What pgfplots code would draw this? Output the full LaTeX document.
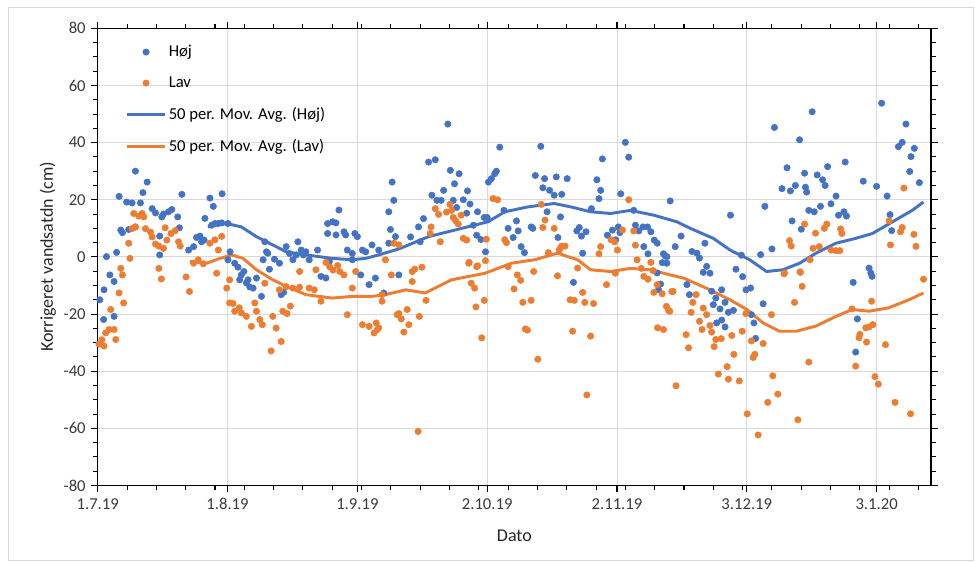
\documentclass[border=0pt]{standalone}
\usepackage{fontspec}
\setmainfont{Carlito}
\usepackage{pgfplots}
\usepackage{pgfplotstable}
\pgfplotsset{compat=1.18}
\definecolor{xlblue}{HTML}{4472C4}
\definecolor{xlorange}{HTML}{ED7D31}
\definecolor{gridgrey}{HTML}{D9D9D9}
\definecolor{txtgrey}{HTML}{3A3A3A}
\pgfplotsset{
  markleg/.style={legend image code/.code={\draw[mark repeat=2,mark phase=2,##1] plot coordinates {(0cm,0cm)(0.49cm,0cm)(0.98cm,0cm)};}},
  lineleg/.style={legend image code/.code={\draw[##1] (0cm,0cm) -- (0.98cm,0cm);}},
}

\pgfplotstableread{
d v
0.5 -15
1.5 -11.5
2.9 -6.3
3.9 -8.6
1.4 -21.9
3.9 -20.8
2.1 0.1
4.5 1.6
5.5 9.4
5.9 8.5
7.4 9.6
9.0 10.5
5.1 21.2
6.9 19.2
8.2 18.9
10.2 18.9
9.0 30.0
11.8 26.2
10.8 22.5
13.0 16.9
13.8 15.4
15.7 15.0
16.9 15.8
17.7 16.6
19.1 14.0
15.3 14.0
19.5 10.2
14.8 7.3
14.8 0.7
20.1 21.9
21.7 2.4
22.9 3.6
23.6 6.8
24.4 7.3
24.8 5.3
25.4 5.9
25.6 13.5
26.8 20.6
27.6 17.7
29.7 22.1
27.2 11.1
28.0 11.7
28.8 11.7
29.6 11.9
31.1 11.7
31.6 1.8
31.1 -1.0
32.7 -2.2
33.5 -3.6
34.3 -6.3
34.9 -5.1
33.9 -8.0
35.5 -9.1
36.3 -10.5
37.1 -10.9
35.9 -8.0
37.9 -7.4
39.1 -13.8
39.9 5.3
40.3 1.8
40.6 1.3
39.5 -1.0
41.0 -4.3
42.2 -0.8
43.4 -2.2
43.8 -13.2
44.4 -12.4
45.0 3.6
45.8 1.2
46.6 -1.0
47.4 0.7
47.8 5.3
48.6 2.4
49.1 0.7
49.7 1.8
50.5 -1.0
52.5 2.4
53.3 -6.8
54.5 -7.4
55.3 -1.6
57.6 16.4
56.9 7.7
54.9 8.2
54.9 11.7
56.1 12.3
56.9 11.9
58.8 8.8
59.2 7.7
59.6 2.4
60.8 1.2
60.8 -1.0
61.4 8.2
62.0 7.1
62.8 -6.3
63.2 2.4
64.0 1.8
64.8 -9.7
65.5 4.2
66.3 -7.4
67.1 2.4
68.3 -12.6
69.5 4.8
70.7 19.8
69.5 15.8
69.9 9.6
70.3 26.2
71.1 7.1
71.9 -6.3
83.6 46.5
79.0 33.2
80.6 34.0
84.2 30.3
86.3 29.1
85.2 25.6
79.8 21.6
81.0 19.8
82.0 19.8
82.6 23.3
84.9 19.8
85.7 17.3
87.3 20.0
88.3 23.1
88.9 18.5
88.1 15.3
77.8 13.4
76.6 10.5
74.7 7.0
77.0 5.3
90.7 15.8
92.3 13.8
93.0 13.8
89.7 11.1
90.5 7.6
91.5 6.1
92.6 1.8
93.3 26.2
94.0 27.4
94.8 29.1
95.2 30.0
96.0 38.4
97.0 16.3
98.0 10.0
100.0 12.6
100.4 9.1
99.2 6.8
101.1 3.6
101.9 1.5
103.5 10.5
103.9 10.0
104.5 28.5
106.3 24.2
106.7 27.4
107.9 23.3
109.0 21.6
110.8 21.9
109.5 28.0
112.1 27.4
110.5 14.0
107.3 15.8
105.8 38.7
109.9 6.8
113.6 -8.9
114.4 9.1
115.0 10.3
115.5 7.3
116.6 8.8
115.8 1.3
119.2 27.0
120.1 23.3
119.7 20.4
120.5 34.3
117.9 16.9
126.0 40.1
126.8 34.9
124.9 22.1
121.7 7.6
122.9 9.4
124.3 10.5
124.7 8.5
123.7 6.0
128.4 11.1
129.2 9.1
130.2 10.5
131.3 10.5
132.1 8.8
132.9 5.9
130.4 3.6
131.4 1.1
135.1 1.1
135.9 0.1
136.7 19.6
137.9 3.6
133.6 -5.6
134.8 -2.0
135.9 -2.2
128.0 16.3
133.9 -11.5
133.6 4.8
135.5 0.3
139.3 7.3
141.9 1.9
143.1 1.3
143.7 -0.4
145.0 4.8
144.6 -5.4
145.4 -3.3
146.2 -5.7
151.1 14.6
152.4 -4.3
154.0 -6.9
153.7 0.6
158.3 0.8
159.3 17.7
161.0 2.8
161.6 45.3
163.4 23.9
164.6 31.2
165.4 23.1
165.8 12.6
166.6 25.0
167.6 41.0
168.0 9.7
168.8 29.3
169.0 24.4
169.3 22.7
169.8 16.3
170.6 50.8
171.1 15.8
171.8 28.7
172.6 17.7
173.1 27.0
173.7 25.0
174.3 31.6
175.1 18.6
176.3 21.3
176.9 14.6
178.2 15.8
178.5 33.2
178.8 14.3
182.8 26.5
184.2 -3.9
184.6 -5.6
186.0 24.7
187.2 53.8
188.5 21.3
189.2 14.8
189.6 9.2
191.2 38.6
192.1 40.1
193.0 46.5
193.9 29.9
194.2 35.1
195.0 38.0
196.2 26.0
134.4 -9.5
140.7 -9.7
141.3 -13.2
146.6 -12.0
149.0 -11.5
147.6 -14.4
147.0 -16.7
148.6 -18.2
149.8 -15.9
150.6 -19.4
151.8 -18.7
147.8 -23.1
149.8 -24.5
149.0 -22.1
154.8 -11.5
155.9 -10.9
158.9 -16.4
156.1 -20.2
156.7 -23.1
157.1 -28.5
180.4 -8.9
181.4 -21.7
181.0 -33.3
184.9 -6.8
}\hoj

\pgfplotstableread{
d v
0.3 -30.5
1.0 -29
1.5 -31.2
1.9 -26.6
2.7 -25.4
3.9 -25.4
4.3 -28.9
3.1 -18.4
6.2 -16.1
5.1 -12.6
5.5 -4.0
5.9 -6.3
7.7 -0.5
7.4 4.8
8.2 9.9
9.0 10.5
8.6 15.2
9.8 14.3
10.6 15.2
11.0 14.0
11.4 9.9
12.6 8.7
13.0 7.0
13.8 4.5
14.6 3.8
15.7 3.0
16.5 5.9
17.5 8.2
18.5 9.2
19.3 5.3
19.7 3.8
16.1 10.2
14.6 -4.0
15.2 -7.7
21.1 -7.0
21.9 -12.1
22.9 -2.2
24.0 -1.0
25.2 -2.4
26.8 4.8
28.0 6.0
29.6 7.2
28.8 2.4
28.4 -5.7
31.5 -8.0
30.8 -10.9
31.5 -16.1
32.3 -16.3
32.7 -19.0
33.8 -17.8
34.3 -19.6
35.5 -20.8
36.7 -24.3
37.5 -16.1
37.9 -19.0
38.7 -21.9
39.3 -23.7
39.9 -9.2
41.8 -20.8
42.6 -24.9
43.8 -29.6
44.2 -19.0
45.2 -19.8
46.0 -17.2
41.4 -32.9
43.4 -11.5
45.0 -10.4
46.6 -10.9
48.2 -10.6
50.5 -10.9
51.7 -11.5
48.2 -5.1
52.1 -4.5
54.5 -1.9
55.4 -3.5
56.2 -4.6
57.3 -3.0
57.8 -5.1
58.8 -6.3
59.6 -20.2
61.6 -5.1
60.8 -10.9
63.2 -23.7
64.8 -24.3
66.5 -23.1
66.8 -25.4
66.0 -26.6
67.9 -15.5
70.1 -6.3
70.7 4.8
71.9 4.2
71.5 -20.2
53.3 -15.5
67.1 -24.8
67.9 -13.2
68.7 -1.0
75.1 -5.1
75.7 -4.3
77.4 -3.6
75.1 -8.6
71.9 -19.8
72.5 -21.7
73.9 -18.4
74.3 -23.7
73.1 -26.3
76.8 -20.8
78.4 -15.2
76.5 -61.1
79.4 8.2
79.6 10.5
80.6 16.9
81.4 14.9
81.8 5.3
83.3 15.7
84.1 18.4
84.5 16.3
84.9 13.8
85.5 12.6
86.1 11.5
86.8 14.6
87.3 6.5
88.1 5.9
88.6 -2.2
88.7 -1.9
89.2 -9.2
90.0 -10.9
90.3 -17.5
90.5 -3.4
90.7 -3.1
91.7 -28.3
92.3 -15.2
92.6 -1.3
92.8 6.2
94.4 20.4
95.5 20.0
97.2 6.0
97.6 5.0
98.0 -3.4
99.4 -11.2
100.2 -6.3
101.0 -8.2
101.5 -15.9
102.1 -25.2
102.6 -25.6
103.5 -15.2
104.1 -5.1
105.1 -35.8
105.9 18.4
106.3 10.3
106.8 12.9
107.6 1.5
109.0 10.0
109.8 -6.6
110.2 2.4
110.6 3.4
110.8 3.8
111.6 3.8
112.8 -15.0
113.4 -26.0
113.8 -15.2
114.6 -3.9
115.8 -12.4
116.3 -15.9
116.8 -48.3
117.7 -27.7
118.4 -16.3
119.7 1.1
120.1 3.6
121.5 -9.7
122.6 6.0
123.4 5.3
123.6 -5.7
124.1 2.4
125.3 9.4
126.8 20.0
128.0 9.1
128.4 4.1
128.8 -1.0
129.8 -4.0
130.4 -6.8
131.4 -7.8
132.1 -1.9
132.6 -4.8
132.8 -12.4
133.6 -9.7
133.7 -24.8
134.8 -12.9
135.1 -25.4
135.8 -17.3
136.3 -18.7
136.6 -19.0
137.1 -12.1
137.4 -12.1
138.1 -45.1
140.5 -27.2
141.1 -31.8
141.7 -19.4
142.1 -15.9
142.9 -13.2
143.7 -22.5
144.3 -25.4
144.6 -17.9
145.4 -20.2
146.2 -24.0
146.6 -26.3
147.2 -31.4
147.6 -28.9
148.2 -41.0
148.9 -28.6
150.3 -38.4
150.6 -42.8
151.4 -27.5
151.9 -34.1
153.2 -43.4
153.9 -26.0
154.8 -19.8
155.1 -54.9
156.1 -29.4
156.5 -35.2
156.9 -34.1
157.7 -62.3
158.9 -30.3
160.0 -50.9
160.9 -20.2
161.2 -41.6
162.4 -48.0
163.9 -5.9
164.0 -5.6
165.2 5.7
165.6 3.8
166.4 -15.9
167.2 -57.0
167.7 -5.2
167.8 -5.4
168.2 -10.3
168.8 11.5
169.8 -36.8
170.1 -1.0
170.8 3.0
171.4 8.3
172.3 3.6
173.5 10.0
174.1 11.5
175.1 2.4
176.3 2.2
177.2 2.2
177.4 9.8
177.7 8.2
180.1 -18.2
181.0 -38.2
181.8 -28.3
182.0 -27.1
183.4 -24.8
183.6 -29.8
184.2 -24.5
184.8 -15.5
185.1 -23.7
185.6 -41.9
186.4 -44.5
188.1 -30.7
189.0 12.6
189.3 4.2
190.4 -50.9
191.7 8.8
192.1 10.3
192.5 24.1
194.1 -54.9
194.9 7.9
195.4 3.7
197.2 -7.8
}\lav

\pgfplotstableread{
d v
26.3 10.5
28.5 11.2
30.8 11.7
34.3 10.5
37.9 7.1
41.8 4.2
45.0 1.8
49.7 0.7
56.0 -0.5
60.8 -1.0
64.0 -0.5
67.1 0.7
71.9 2.8
79.0 7.1
86.9 10.0
93.2 12.3
97.2 15.8
102.7 17.5
109.0 18.7
113.0 17.5
117.7 15.8
122.5 15.2
127.2 16.3
132.8 14.6
138.3 12.3
141.5 10.0
147.0 6.5
151.0 2.4
155.7 -1.0
159.7 -5.1
163.6 -4.5
167.6 -2.2
171.5 1.3
176.3 4.8
181.0 6.5
185.0 8.2
190.5 12.9
194.5 16.3
197.2 19.2
}\mahoj

\pgfplotstableread{
d v
22.0 -1.6
26.0 -2.2
29.2 -0.5
32.0 0.7
34.7 -0.5
37.9 -4.5
41.8 -8.0
45.0 -10.3
49.7 -13.2
56.0 -14.4
60.8 -13.8
65.5 -13.8
68.7 -13.2
71.9 -12.1
73.5 -11.5
78.2 -12.6
84.5 -8.0
92.5 -5.7
98.8 -2.2
104.3 -1.0
109.8 1.3
114.6 -1.0
117.7 -4.5
122.5 -5.1
127.2 -4.0
132.0 -4.5
136.7 -6.3
139.9 -7.4
146.2 -11.5
151.0 -15.0
155.0 -18.4
158.9 -23.1
162.8 -26.0
166.8 -26.0
171.5 -24.2
176.3 -20.8
180.2 -18.4
184.2 -19.0
188.9 -17.8
193.7 -15.0
197.2 -12.6
}\malav

\begin{document}
\begin{tikzpicture}
\useasboundingbox (0,0) rectangle (731.25pt,422.25pt);
\draw[gridgrey, line width=0.75pt] (6pt,1.5pt) rectangle (729.75pt,416.25pt);
\begin{axis}[
  at={(73.3pt,58.1pt)}, anchor=south west,
  scale only axis, width=625pt, height=342.9pt,
  xmin=0, xmax=199, ymin=-80, ymax=80,
  xtick={0,31,62,93,124,155,186},
  xticklabels={1.7.19,1.8.19,1.9.19,2.10.19,2.11.19,3.12.19,3.1.20},
  minor xtick={7,14,...,196},
  ytick={-80,-60,...,80},
  minor y tick num=3,
  grid=major,
  major grid style={gridgrey, line width=0.75pt},
  axis line style={black, line width=0.9pt},
  tick style={black, line width=0.8pt},
  tick align=outside,
  major tick length=5pt,
  minor tick length=3.5pt,
  ticklabel style={font=\fontsize{12.5}{14}\selectfont, text=txtgrey},
  xticklabel style={yshift=-1pt},
  yticklabel style={xshift=-0.5pt},
  /pgf/number format/assume math mode=true,
  xlabel={Dato}, ylabel={Korrigeret vandsatdn (cm)},
  label style={font=\fontsize{13.5}{16}\selectfont, text=black!85},
  xlabel style={at={(axis description cs:0.5,-0.111)}, anchor=center},
  ylabel style={at={(axis description cs:-0.060,0.5)}, anchor=center},
  legend style={at={(axis description cs:0.0288,0.975)}, anchor=north west,
    draw=none, fill=none, font=\fontsize{12.5}{14}\selectfont, row sep=9.4pt},
  legend cell align=left,
]
\addplot[only marks, mark=*, mark size=2.4pt, mark options={fill=xlblue, draw=xlblue}, markleg]
  table[x=d,y=v] {\hoj};
\addlegendentry{Høj}
\addplot[only marks, mark=*, mark size=2.4pt, mark options={fill=xlorange, draw=xlorange}, markleg]
  table[x=d,y=v] {\lav};
\addlegendentry{Lav}
\addplot[xlblue, line width=2.2pt, no marks, lineleg]
  table[x=d,y=v] {\mahoj};
\addlegendentry{50 per. Mov. Avg. (Høj)}
\addplot[xlorange, line width=2.2pt, no marks, lineleg]
  table[x=d,y=v] {\malav};
\addlegendentry{50 per. Mov. Avg. (Lav)}
\end{axis}
\end{tikzpicture}
\end{document}
